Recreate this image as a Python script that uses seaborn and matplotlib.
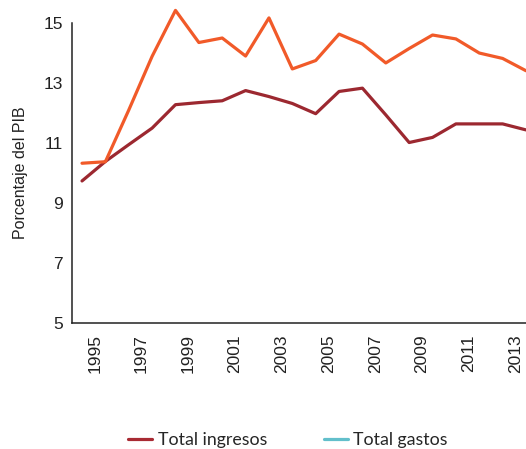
import matplotlib
matplotlib.use("Agg")
import matplotlib.pyplot as plt
from matplotlib.lines import Line2D
import pandas as pd
import seaborn as sns

years = list(range(1995, 2015))
ingresos = [9.74, 10.39, 10.95, 11.50, 12.28, 12.35, 12.41, 12.75, 12.55, 12.32,
            11.98, 12.72, 12.83, 11.94, 11.02, 11.19, 11.64, 11.64, 11.64, 11.44]
gastos = [10.33, 10.38, 12.10, 13.89, 15.42, 14.35, 14.50, 13.90, 15.17, 13.47,
          13.75, 14.63, 14.30, 13.67, 14.15, 14.60, 14.47, 14.00, 13.82, 13.41]
series_names = ["Total ingresos", "Total gastos"]
y_ticks = [5, 7, 9, 11, 13, 15]
x_labels = [str(y) for y in range(1995, 2014, 2)]

line_colors = {"Total ingresos": "#9c2830", "Total gastos": "#f15a29"}
legend_colors = {"Total ingresos": "#a82a33", "Total gastos": "#62bfcb"}

df = pd.DataFrame({
    "year": years * 2,
    "value": ingresos + gastos,
    "serie": [series_names[0]] * len(years) + [series_names[1]] * len(years),
})

sns.set_style("white")
plt.rcParams["font.family"] = ["Liberation Sans", "DejaVu Sans"]

fig = plt.figure(figsize=(5.26, 4.49), dpi=100)
ax = fig.add_axes([71.5 / 526, (449 - 323.3) / 449, (526 - 71.5) / 526, 300.3 / 449])

sns.lineplot(data=df, x="year", y="value", hue="serie", palette=line_colors,
             linewidth=2.3, legend=False, ax=ax)
for ln in ax.lines:
    ln.set_clip_on(False)

ax.set_xlim(1994.55, 2014)
ax.set_ylim(5, 15)
ax.set_yticks(y_ticks)
ax.set_yticklabels([str(v) for v in y_ticks], fontsize=12.5, color="#222222")

# tick marks between the year labels, labels centred in the gaps
ax.set_xticks([y + 0.5 for y in range(1996, 2014, 2)])
ax.set_xticklabels([])
ax.set_xticks([int(s) + 0.55 for s in x_labels], minor=True)
ax.set_xticklabels(x_labels, minor=True, rotation=90, fontsize=12.5, color="#222222")
ax.tick_params(axis="x", which="major", direction="in", length=5.5, width=1.1,
               color="#222222")
ax.tick_params(axis="x", which="minor", length=0, pad=8)
ax.tick_params(axis="y", direction="in", length=7.7, width=1.1, color="#222222", pad=6)
ax.set_xlabel("")
ax.set_ylabel("Porcentaje del PIB", fontsize=11.5, color="#222222", labelpad=11)

for side in ["top", "right"]:
    ax.spines[side].set_visible(False)
for side in ["left", "bottom"]:
    ax.spines[side].set_color("#222222")
    ax.spines[side].set_linewidth(1.1)

handles = [Line2D([0], [0], color=legend_colors[n], lw=2.3) for n in series_names]
fig.legend(handles, series_names, loc="center", ncol=2, frameon=False,
           bbox_to_anchor=(288 / 526, 1 - 440 / 449),
           handlelength=1.35, handletextpad=0.3, columnspacing=3.2,
           prop={"family": ["Lato", "DejaVu Sans"], "size": 12.8})

fig.savefig("out.png", dpi=100)
